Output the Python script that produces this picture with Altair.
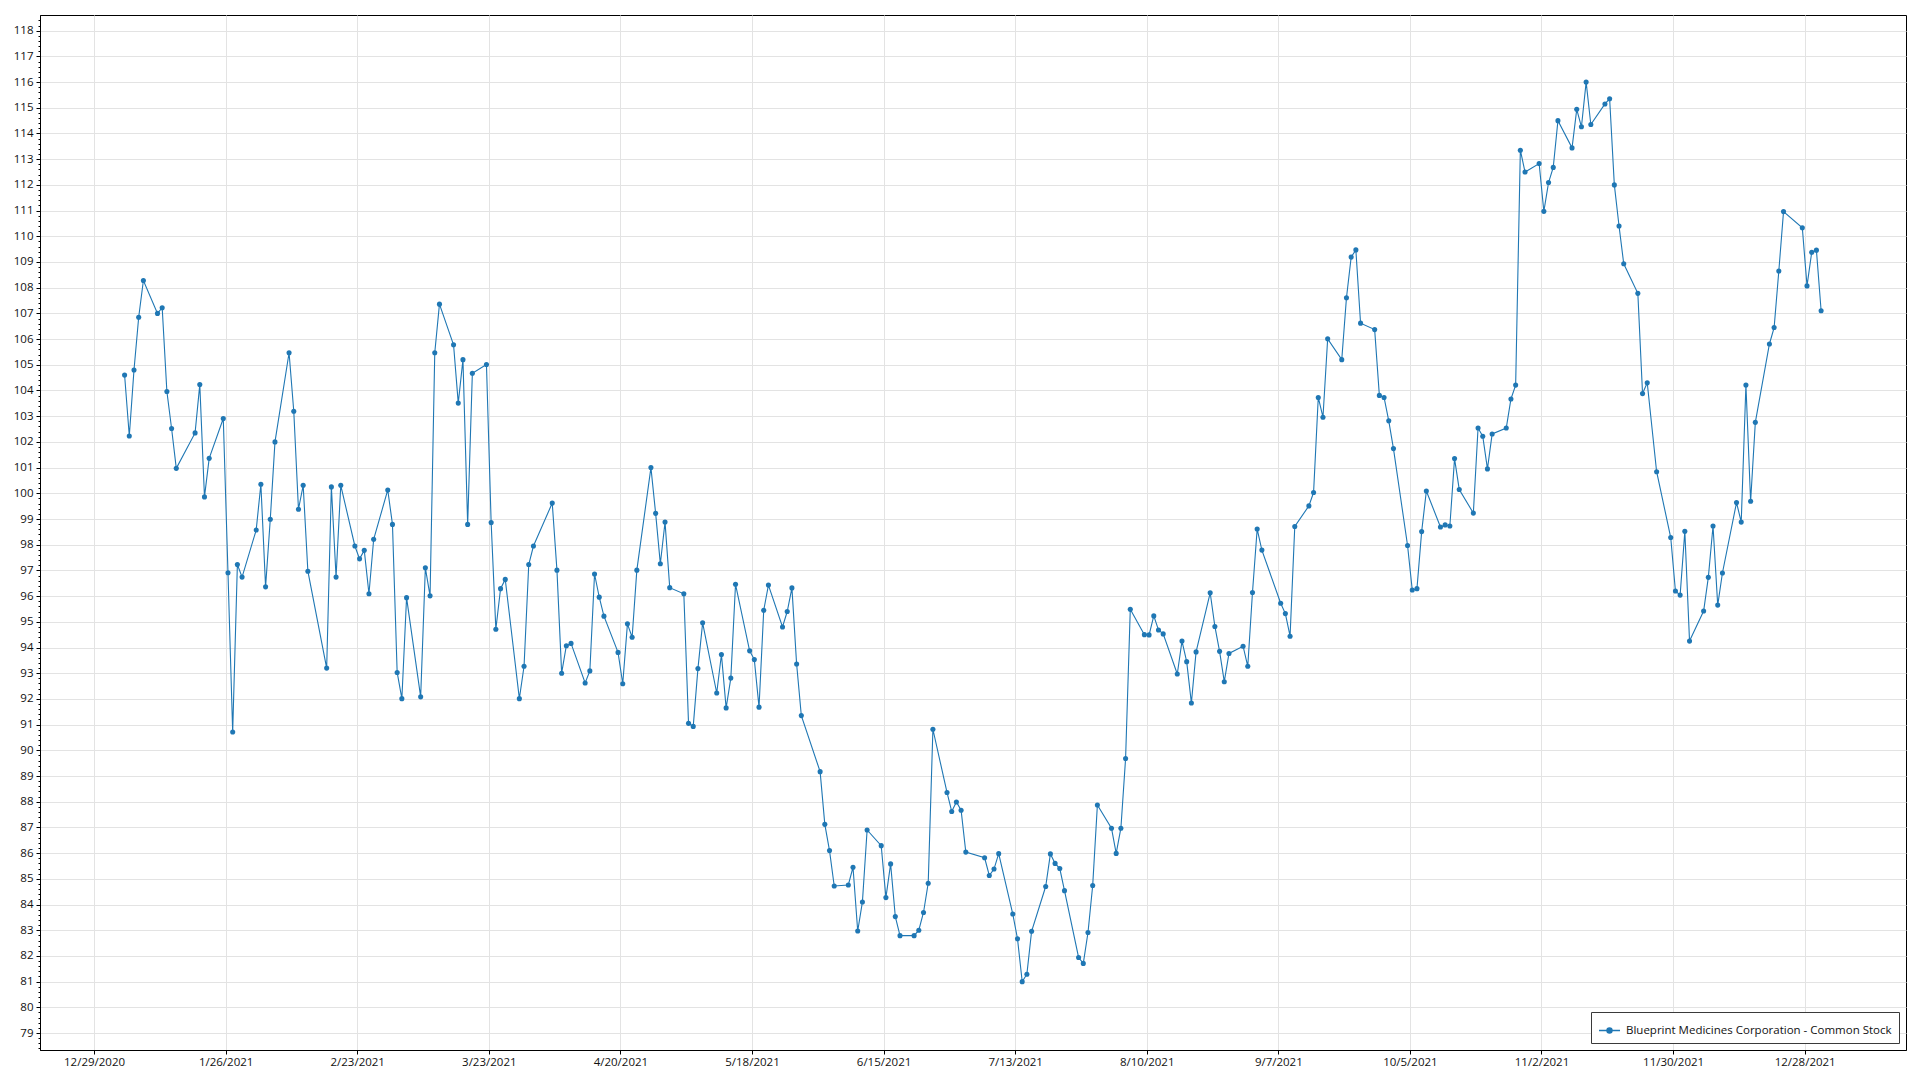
import altair as alt
import pandas as pd

# ---- data (trading days of 2021) ----
dates = [
    "2021-01-04","2021-01-05","2021-01-06","2021-01-07","2021-01-08",
    "2021-01-11","2021-01-12","2021-01-13","2021-01-14","2021-01-15",
    "2021-01-19","2021-01-20","2021-01-21","2021-01-22",
    "2021-01-25","2021-01-26","2021-01-27","2021-01-28","2021-01-29",
    "2021-02-01","2021-02-02","2021-02-03","2021-02-04","2021-02-05",
    "2021-02-08","2021-02-09","2021-02-10","2021-02-11","2021-02-12",
    "2021-02-16","2021-02-17","2021-02-18","2021-02-19",
    "2021-02-22","2021-02-23","2021-02-24","2021-02-25","2021-02-26",
    "2021-03-01","2021-03-02","2021-03-03","2021-03-04","2021-03-05",
    "2021-03-08","2021-03-09","2021-03-10","2021-03-11","2021-03-12",
    "2021-03-15","2021-03-16","2021-03-17","2021-03-18","2021-03-19",
    "2021-03-22","2021-03-23","2021-03-24","2021-03-25","2021-03-26",
    "2021-03-29","2021-03-30","2021-03-31","2021-04-01",
    "2021-04-05","2021-04-06","2021-04-07","2021-04-08","2021-04-09",
    "2021-04-12","2021-04-13","2021-04-14","2021-04-15","2021-04-16",
    "2021-04-19","2021-04-20","2021-04-21","2021-04-22","2021-04-23",
    "2021-04-26","2021-04-27","2021-04-28","2021-04-29","2021-04-30",
    "2021-05-03","2021-05-04","2021-05-05","2021-05-06","2021-05-07",
    "2021-05-10","2021-05-11","2021-05-12","2021-05-13","2021-05-14",
    "2021-05-17","2021-05-18","2021-05-19","2021-05-20","2021-05-21",
    "2021-05-24","2021-05-25","2021-05-26","2021-05-27","2021-05-28",
    "2021-06-01","2021-06-02","2021-06-03","2021-06-04",
    "2021-06-07","2021-06-08","2021-06-09","2021-06-10","2021-06-11",
    "2021-06-14","2021-06-15","2021-06-16","2021-06-17","2021-06-18",
    "2021-06-21","2021-06-22","2021-06-23","2021-06-24","2021-06-25",
    "2021-06-28","2021-06-29","2021-06-30","2021-07-01","2021-07-02",
    "2021-07-06","2021-07-07","2021-07-08","2021-07-09",
    "2021-07-12","2021-07-13","2021-07-14","2021-07-15","2021-07-16",
    "2021-07-19","2021-07-20","2021-07-21","2021-07-22","2021-07-23",
    "2021-07-26","2021-07-27","2021-07-28","2021-07-29","2021-07-30",
    "2021-08-02","2021-08-03","2021-08-04","2021-08-05","2021-08-06",
    "2021-08-09","2021-08-10","2021-08-11","2021-08-12","2021-08-13",
    "2021-08-16","2021-08-17","2021-08-18","2021-08-19","2021-08-20",
    "2021-08-23","2021-08-24","2021-08-25","2021-08-26","2021-08-27",
    "2021-08-30","2021-08-31","2021-09-01","2021-09-02","2021-09-03",
    "2021-09-07","2021-09-08","2021-09-09","2021-09-10",
    "2021-09-13","2021-09-14","2021-09-15","2021-09-16","2021-09-17",
    "2021-09-20","2021-09-21","2021-09-22","2021-09-23","2021-09-24",
    "2021-09-27","2021-09-28","2021-09-29","2021-09-30","2021-10-01",
    "2021-10-04","2021-10-05","2021-10-06","2021-10-07","2021-10-08",
    "2021-10-11","2021-10-12","2021-10-13","2021-10-14","2021-10-15",
    "2021-10-18","2021-10-19","2021-10-20","2021-10-21","2021-10-22",
    "2021-10-25","2021-10-26","2021-10-27","2021-10-28","2021-10-29",
    "2021-11-01","2021-11-02","2021-11-03","2021-11-04","2021-11-05",
    "2021-11-08","2021-11-09","2021-11-10","2021-11-11","2021-11-12",
    "2021-11-15","2021-11-16","2021-11-17","2021-11-18","2021-11-19",
    "2021-11-22","2021-11-23","2021-11-24","2021-11-26",
    "2021-11-29","2021-11-30","2021-12-01","2021-12-02","2021-12-03",
    "2021-12-06","2021-12-07","2021-12-08","2021-12-09","2021-12-10",
    "2021-12-13","2021-12-14","2021-12-15","2021-12-16","2021-12-17",
    "2021-12-20","2021-12-21","2021-12-22","2021-12-23",
    "2021-12-27","2021-12-28","2021-12-29","2021-12-30","2021-12-31",
]

prices = [
    104.60, 102.23, 104.80, 106.85, 108.28,
    107.00, 107.22, 103.96, 102.52, 100.97,
    102.35, 104.23, 99.86, 101.36,
    102.91, 96.91, 90.71, 97.23, 96.74,
    98.57, 100.35, 96.36, 98.99, 102.00,
    105.47, 103.19, 99.38, 100.31, 96.97,
    93.20, 100.25, 96.74, 100.31,
    97.95, 97.45, 97.78, 96.09, 98.21,
    100.13, 98.79, 93.03, 92.01, 95.94,
    92.08, 97.10, 96.01, 105.47, 107.36,
    105.78, 103.51, 105.20, 98.79, 104.67,
    105.01, 98.86, 94.71, 96.29, 96.65,
    92.01, 93.27, 97.23, 97.95,
    99.62, 97.01, 93.00, 94.07, 94.16,
    92.62, 93.09, 96.86, 95.96, 95.22,
    93.81, 92.59, 94.92, 94.40, 97.01,
    101.00, 99.22, 97.26, 98.88, 96.33,
    96.09, 91.05, 90.93, 93.18, 94.96,
    92.23, 93.73, 91.65, 92.81, 96.46,
    93.87, 93.53, 91.68, 95.45, 96.43,
    94.80, 95.40, 96.32, 93.36, 91.35,
    89.17, 87.12, 86.10, 84.72,
    84.76, 85.45, 82.97, 84.10, 86.90,
    86.29, 84.27, 85.58, 83.53, 82.79,
    82.79, 83.00, 83.69, 84.83, 90.82,
    88.36, 87.62, 87.99, 87.67, 86.04,
    85.82, 85.13, 85.38, 85.98,
    83.63, 82.67, 81.00, 81.29, 82.96,
    84.70, 85.97, 85.60, 85.40, 84.54,
    81.94, 81.71, 82.91, 84.74, 87.87,
    86.97, 85.99, 86.97, 89.68, 95.49,
    94.50, 94.49, 95.23, 94.68, 94.53,
    92.97, 94.25, 93.45, 91.84, 93.83,
    96.13, 94.82, 93.85, 92.67, 93.77,
    94.05, 93.27, 96.14, 98.61, 97.79,
    95.72, 95.32, 94.44, 98.71,
    99.51, 100.03, 103.73, 102.96, 106.01,
    105.20, 107.61, 109.19, 109.47, 106.62,
    106.37, 103.81, 103.73, 102.82, 101.74,
    97.97, 96.24, 96.29, 98.51, 100.09,
    98.69, 98.77, 98.73, 101.35, 100.15,
    99.23, 102.54, 102.22, 100.95, 102.31,
    102.54, 103.67, 104.21, 113.35, 112.50,
    112.83, 110.97, 112.09, 112.68, 114.50,
    113.44, 114.94, 114.26, 116.00, 114.35,
    115.15, 115.35, 112.00, 110.40, 108.93,
    107.78, 103.88, 104.30, 100.84,
    98.28, 96.20, 96.04, 98.52, 94.25,
    95.42, 96.73, 98.73, 95.65, 96.90,
    99.64, 98.88, 104.21, 99.69, 102.76,
    105.81, 106.45, 108.65, 110.96,
    110.33, 108.07, 109.38, 109.46, 107.10,
]

series_name = "Blueprint Medicines Corporation - Common Stock"

# x-axis tick dates (every 4 weeks)
tick_dates = [
    (2020, 12, 29), (2021, 1, 26), (2021, 2, 23), (2021, 3, 23),
    (2021, 4, 20), (2021, 5, 18), (2021, 6, 15), (2021, 7, 13),
    (2021, 8, 10), (2021, 9, 7), (2021, 10, 5), (2021, 11, 2),
    (2021, 11, 30), (2021, 12, 28),
]

# y-axis ticks: major every 1, minor every 0.2
y_ticks = [round(78.4 + 0.2 * i, 1) for i in range(201)]

BLUE = "#1f77b4"
FONT = "Open Sans"
FS = 11.5

df = pd.DataFrame({
    "date": [d + "T12:00:00" for d in dates],
    "price": prices,
    "series": series_name,
})

x_enc = alt.X(
    "date:T",
    title=None,
    scale=alt.Scale(
        domain=[
            alt.DateTime(year=2020, month=12, date=17, hours=12),
            alt.DateTime(year=2022, month=1, date=18, hours=13, minutes=30),
        ],
        nice=False,
    ),
    axis=alt.Axis(
        values=[alt.DateTime(year=y, month=m, date=d) for (y, m, d) in tick_dates],
        format="%-m/%-d/%Y",
        labelFont=FONT,
        labelFontSize=FS,
        labelColor="#111111",
        labelPadding=2,
        tickSize=4,
        tickColor="#000000",
        domainColor="#000000",
        gridColor="#e3e3e3",
        labelFlush=False,
        labelOverlap=False,
    ),
)

is_major = "datum.value % 1 === 0"

y_enc = alt.Y(
    "price:Q",
    title=None,
    scale=alt.Scale(domain=[78.34, 118.61], nice=False, zero=False),
    axis=alt.Axis(
        values=y_ticks,
        labelExpr="datum.value % 1 === 0 ? format(datum.value, 'd') : ''",
        labelFont=FONT,
        labelFontSize={"condition": {"test": is_major, "value": FS}, "value": 0},
        labelColor="#111111",
        labelPadding=3,
        tickSize={"condition": {"test": is_major, "value": 4}, "value": 2},
        tickColor="#000000",
        domainColor="#000000",
        gridColor="#e3e3e3",
        gridOpacity={"condition": {"test": is_major, "value": 1}, "value": 0},
        labelOverlap=False,
        labelFlush=False,
    ),
)

legend = alt.Legend(
    title=None,
    orient="bottom-right",
    offset=7,
    strokeColor="#3a3a3a",
    fillColor="#ffffff",
    padding=7,
    labelFont=FONT,
    labelFontSize=FS,
    labelColor="#111111",
    labelOffset=5,
    labelLimit=0,
    symbolType="M-1,0H1M-0.24,0A0.24,0.24,0,1,0,0.24,0A0.24,0.24,0,1,0,-0.24,0Z",
    symbolSize=441,
    symbolStrokeWidth=1.4,
    symbolFillColor=BLUE,
    symbolStrokeColor=BLUE,
)

line = alt.Chart(df).mark_line(strokeWidth=1.1).encode(
    x=x_enc,
    y=y_enc,
    color=alt.Color("series:N", scale=alt.Scale(range=[BLUE]), legend=legend),
)

points = alt.Chart(df).mark_point(filled=True, size=26, opacity=1).encode(
    x=x_enc,
    y=y_enc,
    color=alt.value(BLUE),
)

chart = (
    alt.layer(line, points)
    .properties(
        width=1866,
        height=1035,
        padding={"left": 5, "top": 7, "right": 5, "bottom": 5},
        background="#ffffff",
    )
    .configure_view(stroke="#000000", strokeWidth=1)
)

chart.save("out.html", embed_options={"renderer": "svg", "actions": False})
